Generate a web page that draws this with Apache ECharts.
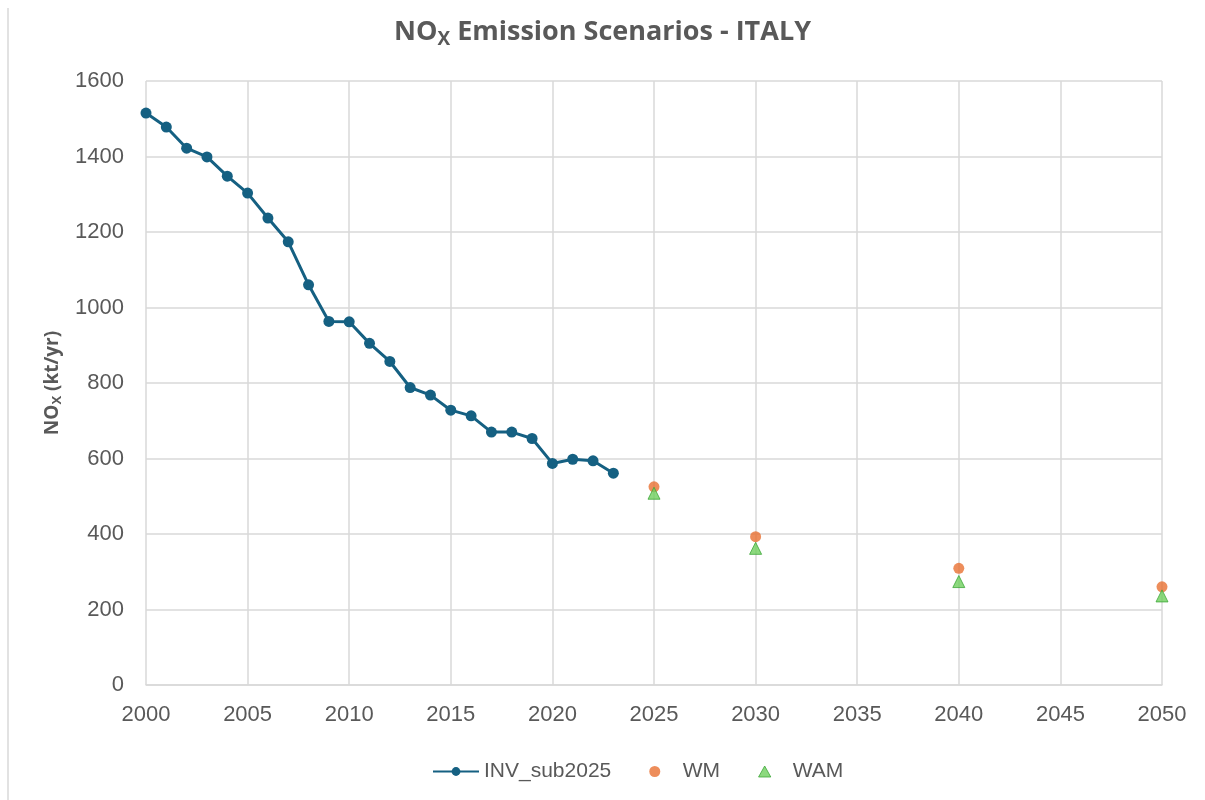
<!DOCTYPE html>
<html>
<head>
<meta charset="utf-8">
<script src="https://cdn.jsdelivr.net/npm/echarts@6/dist/echarts.min.js"></script>
<style>
  html, body { margin: 0; padding: 0; background: #fff; }
  #chart { width: 1205px; height: 800px; }
</style>
</head>
<body>
<div id="chart"></div>
<script>
// Inventory years and NOx emissions (kt/yr)
const invYears = [2000, 2001, 2002, 2003, 2004, 2005, 2006, 2007, 2008, 2009, 2010, 2011,
                  2012, 2013, 2014, 2015, 2016, 2017, 2018, 2019, 2020, 2021, 2022, 2023];
const invValues = [1515, 1478, 1422, 1399, 1348, 1303, 1237, 1174, 1060, 963, 962, 905,
                   857, 788, 768, 728, 713, 670, 670, 653, 587, 598, 594, 561];

// Projection years and scenario values
const scenYears = [2025, 2030, 2040, 2050];
const wmValues = [525, 393, 309, 260];
const wamValues = [508, 362, 274, 236];

const pair = (xs, ys) => xs.map((x, i) => [x, ys[i]]);

const textGrey = '#595959';
const gridGrey = '#d9d9d9';
const triangleIcon = 'path://M5,0 L10,9 L0,9 Z';

const chart = echarts.init(document.getElementById('chart'));
chart.setOption({
  backgroundColor: '#fff',
  animation: false,
  title: {
    text: '{a|NO}{s|X}{a| Emission Scenarios - ITALY}',
    left: 'center',
    top: 11,
    textStyle: {
      rich: {
        a: { fontFamily: 'Open Sans', fontSize: 27, fontWeight: 'bold', color: textGrey },
        s: { fontFamily: 'Open Sans', fontSize: 19, fontWeight: 'bold', color: textGrey, verticalAlign: 'bottom', padding: [14, 0, 0, 0] }
      }
    }
  },
  grid: { left: 146, right: 43, top: 81, bottom: 115, containLabel: false },
  legend: {
    bottom: 13,
    left: 427,
    itemGap: 38,
    itemWidth: 46,
    itemHeight: 11,
    symbolKeepAspect: true,
    textStyle: { fontFamily: 'Liberation Sans', fontSize: 21, color: textGrey },
    data: [
      { name: 'INV_sub2025' },
      { name: 'WM', icon: 'circle', itemStyle: { color: '#e97132' } },
      { name: 'WAM', icon: triangleIcon, itemStyle: { color: '#6fd05e', borderColor: '#3ea83a', borderWidth: 1 } }
    ]
  },
  xAxis: {
    type: 'value',
    min: 2000,
    max: 2050,
    interval: 5,
    axisLine: { show: true, lineStyle: { color: gridGrey, width: 1.5 } },
    axisTick: { show: false },
    axisLabel: { fontFamily: 'Liberation Sans', fontSize: 22, color: textGrey, margin: 19, formatter: v => String(v) },
    splitLine: { show: true, lineStyle: { color: gridGrey, width: 1.5 } }
  },
  yAxis: {
    type: 'value',
    min: 0,
    max: 1600,
    interval: 200,
    name: '{a|NO}{s|X}{a| (kt/yr)}',
    nameLocation: 'middle',
    nameGap: 80,
    nameRotate: 90,
    nameTextStyle: {
      rich: {
        a: { fontFamily: 'Open Sans', fontSize: 19, fontWeight: 'bold', color: textGrey },
        s: { fontFamily: 'Open Sans', fontSize: 13, fontWeight: 'bold', color: textGrey, verticalAlign: 'bottom', padding: [10, 0, 0, 0] }
      }
    },
    axisLine: { show: false },
    axisTick: { show: false },
    axisLabel: { fontFamily: 'Liberation Sans', fontSize: 22, color: textGrey, margin: 22, formatter: v => String(v) },
    splitLine: { show: true, lineStyle: { color: gridGrey, width: 1.5 } }
  },
  graphic: [
    {
      type: 'line',
      shape: { x1: 8, y1: 8, x2: 8, y2: 800 },
      style: { stroke: '#d9d9d9', lineWidth: 1.5 }
    }
  ],
  series: [
    {
      name: 'INV_sub2025',
      type: 'line',
      data: pair(invYears, invValues),
      symbol: 'circle',
      symbolSize: 11,
      lineStyle: { color: '#156082', width: 3 },
      itemStyle: { color: '#156082' }
    },
    {
      name: 'WM',
      type: 'scatter',
      data: pair(scenYears, wmValues),
      symbol: 'circle',
      symbolSize: 11,
      itemStyle: { color: '#e97132' }
    },
    {
      name: 'WAM',
      type: 'scatter',
      data: pair(scenYears, wamValues),
      symbol: 'triangle',
      symbolSize: 12,
      itemStyle: { color: '#6fd05e', borderColor: '#3ea83a', borderWidth: 1 }
    }
  ]
});
</script>
</body>
</html>
